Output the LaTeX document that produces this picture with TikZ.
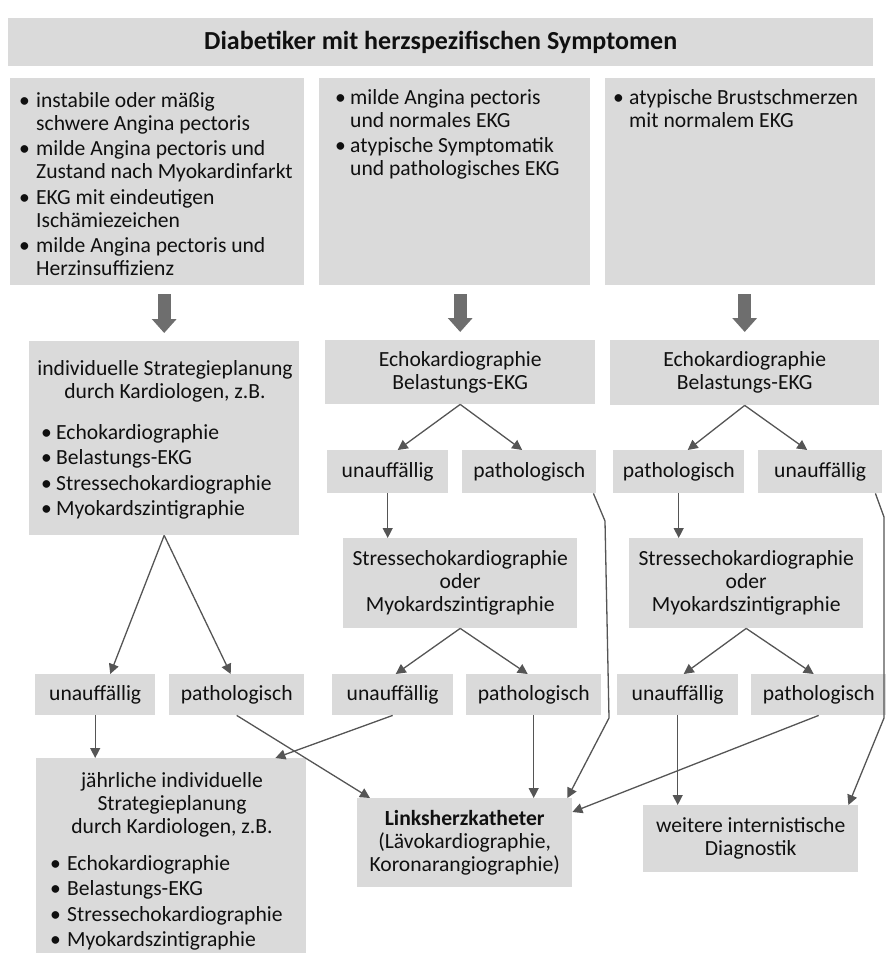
\documentclass[tikz,border=0pt]{standalone}
\usepackage{fontspec}
\setmainfont{Carlito}
\usetikzlibrary{arrows.meta,calc}
\definecolor{boxgray}{HTML}{DADADA}
\definecolor{linegray}{HTML}{555555}
\definecolor{blockgray}{HTML}{6E6E6E}
\definecolor{txtcol}{HTML}{101010}
\newlength{\bind}
\newcommand{\bitem}[1]{\par\hangindent=\bind\hangafter=1\noindent\makebox[\bind][l]{\textbullet}#1}
\newcommand{\blist}[3]{\parbox[t]{#1}{\setlength{\bind}{#2}\setlength{\parskip}{2.5pt}\fontsize{21.6}{23}\selectfont #3}}
\newcommand{\cpar}[2]{\parbox[t]{#1}{\centering\fontsize{21.6}{23}\selectfont #2}}
\begin{document}
\begin{tikzpicture}[x=1pt,y=-1pt,
  box/.style={fill=boxgray, inner sep=0pt, anchor=north west, text=txtcol,
              font=\fontsize{21.6}{23}\selectfont, align=center},
  sz/.style n args={2}{minimum width=#1pt, minimum height=#2pt},
  txt/.style={inner sep=0pt, text=txtcol, font=\fontsize{21.6}{23}\selectfont},
  conn/.style={draw=linegray, line width=1.3pt, -{Triangle[length=10pt,width=10pt]}},
  blockarrow/.style={draw=blockgray, line width=13pt, -{Triangle[length=14pt,width=24pt]}}]
\useasboundingbox (0,0) rectangle (886,961);

% title
\node[box, sz={865}{48}, font=\fontsize{26}{28}\selectfont\bfseries] (title) at (8,18)
  {Diabetiker mit herzspezifischen Symptomen};

% row 2
\node[box, sz={294}{207}] (s1) at (10,78) {};
\node[box, sz={271}{207}] (s2) at (319,78) {};
\node[box, sz={270}{207}] (s3) at (605,78) {};
\node[txt, anchor=base west] (s1t) at (19,107) {\blist{285pt}{17pt}{%
  \bitem{instabile oder mäßig\\schwere Angina pectoris}
  \bitem{milde Angina pectoris und\\Zustand nach Myokardinfarkt}
  \bitem{EKG mit eindeutigen\\Ischämiezeichen}
  \bitem{milde Angina pectoris und\\Herzinsuffizienz}}};
\node[txt, anchor=base west] (s2t) at (335,104) {\blist{255pt}{15pt}{%
  \bitem{milde Angina pectoris\\und normales EKG}
  \bitem{atypische Symptomatik\\und pathologisches EKG}}};
\node[txt, anchor=base west] (s3t) at (613,104) {\blist{260pt}{16pt}{%
  \bitem{atypische Brustschmerzen\\mit normalem EKG}}};

% row 3
\node[box, sz={270}{194}] (b4) at (29,341) {};
\node[txt, anchor=base] (b4h) at (165,375)
  {\cpar{270pt}{individuelle Strategieplanung\\durch Kardiologen, z.B.}};
\node[txt, anchor=base west] (b4t) at (41,439) {\blist{250pt}{15pt}{%
  \bitem{Echokardiographie}
  \bitem{Belastungs-EKG}
  \bitem{Stressechokardiographie}
  \bitem{Myokardszintigraphie}}};
\node[box, sz={270}{64}] (b5) at (325,340) {Echokardiographie\\Belastungs-EKG};
\node[box, sz={269}{65}] (b6) at (610,340) {Echokardiographie\\Belastungs-EKG};

% row 4
\node[box, sz={121}{43}] (mu1) at (327,450) {unauffällig};
\node[box, sz={134}{43}] (mp1) at (462,450) {pathologisch};
\node[box, sz={131}{43}] (rp1) at (613,450) {pathologisch};
\node[box, sz={124}{43}] (ru1) at (758,450) {unauffällig};

% row 5
\node[box, sz={234}{90}] (ms) at (343,538) {Stressechokardiographie\\oder\\Myokardszintigraphie};
\node[box, sz={234}{90}] (rs) at (629,538) {Stressechokardiographie\\oder\\Myokardszintigraphie};

% row 6
\node[box, sz={120}{41}] (lu) at (35,674) {unauffällig};
\node[box, sz={135}{41}] (lp) at (169,674) {pathologisch};
\node[box, sz={121}{41}] (mu2) at (332,674) {unauffällig};
\node[box, sz={135}{41}] (mp2) at (466,674) {pathologisch};
\node[box, sz={121}{41}] (ru2) at (617,674) {unauffällig};
\node[box, sz={135}{41}] (rp2) at (751,674) {pathologisch};

% row 7
\node[box, sz={270}{195}] (J) at (36,758) {};
\node[txt, anchor=base] (Jh) at (172,787)
  {\cpar{270pt}{jährliche individuelle\\Strategieplanung\\durch Kardiologen, z.B.}};
\node[txt, anchor=base west] (Jt) at (50,870) {\blist{250pt}{17pt}{%
  \bitem{Echokardiographie}
  \bitem{Belastungs-EKG}
  \bitem{Stressechokardiographie}
  \bitem{Myokardszintigraphie}}};
\node[box, sz={215}{89}] (LH) at (357,798)
  {\textbf{Linksherzkatheter}\\(Lävokardiographie,\\Koronarangiographie)};
\node[box, sz={215}{67}] (W) at (643,805) {weitere internistische\\Diagnostik};

% block arrows
\draw[blockarrow] ($(s1.south -| b4.north)+(0,9)$) -- ($(b4.north)+(0,-8)$);
\draw[blockarrow] ($(s2.south -| b5.north)+(0,9)$) -- ($(b5.north)+(0,-8)$);
\draw[blockarrow] ($(s3.south -| b6.north)+(0,9)$) -- ($(b6.north)+(0,-8)$);

% connectors
\draw[conn] (b4.south) -- ([xshift=15pt]lu.north);
\draw[conn] (b4.south) -- ([xshift=-6pt]lp.north);
\draw[conn] (b5.south) -- ([xshift=10pt]mu1.north);
\draw[conn] (b5.south) -- ([xshift=-7pt]mp1.north);
\draw[conn] (b6.south) -- ([xshift=9pt]rp1.north);
\draw[conn] (b6.south) -- ([xshift=-13pt]ru1.north);
\draw[conn] (mu1.south) -- (mu1.south |- ms.north);
\draw[conn] (rp1.south) -- (rp1.south |- rs.north);
\draw[conn] ([xshift=-3pt]mp1.south east) -- (605,521) -- (609,718) -- ([xshift=-5pt]LH.north east);
\draw[conn] ([xshift=-7pt]ru1.south east) -- (884,517) -- (884,718) -- ([xshift=-10pt]W.north east);
\draw[conn] (ms.south) -- ([xshift=3pt]mu2.north);
\draw[conn] (ms.south) -- ([xshift=-6pt]mp2.north);
\draw[conn] (rs.south) -- ([xshift=6pt]ru2.north);
\draw[conn] (rs.south) -- ([xshift=-5pt]rp2.north);
\draw[conn] (lu.south) -- (lu.south |- J.north);
\draw[conn] (lp.south) -- ([xshift=13pt]LH.north west);
\draw[conn] (mu2.south) -- ([xshift=-31pt]J.north east);
\draw[conn] (mp2.south) -- (mp2.south |- LH.north);
\draw[conn] (rp2.south) -- ([yshift=-14pt]LH.north east);
\draw[conn] (ru2.south) -- (ru2.south |- W.north);
\end{tikzpicture}
\end{document}
